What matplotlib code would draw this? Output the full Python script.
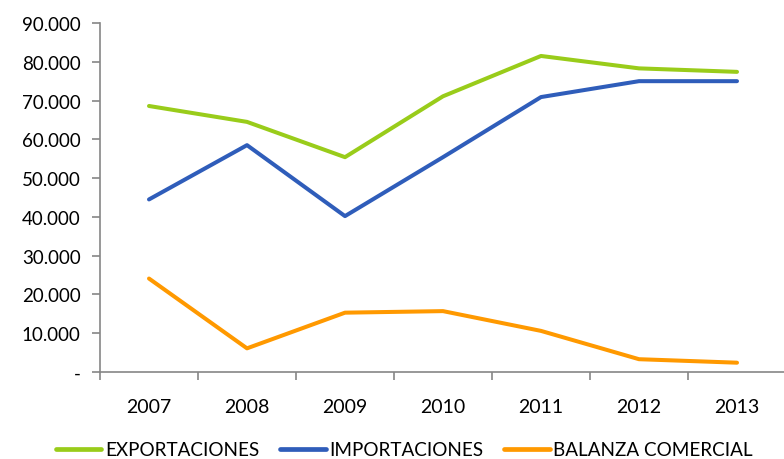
import matplotlib.pyplot as plt
from matplotlib.ticker import FuncFormatter, FixedLocator

years = ["2007", "2008", "2009", "2010", "2011", "2012", "2013"]
exportaciones = [68600, 64500, 55400, 71100, 81500, 78300, 77400]
importaciones = [44500, 58500, 40200, 55400, 70900, 75000, 75000]
balanza = [24100, 6100, 15300, 15700, 10600, 3300, 2400]

plt.rcParams["font.family"] = ["Lato", "DejaVu Sans"]

fig = plt.figure(figsize=(7.84, 4.6), dpi=100)
ax = fig.add_axes([100 / 784, 1 - 373 / 460, 686 / 784, 349 / 460])

x = range(len(years))
ax.plot(x, exportaciones, color="#99CC1A", lw=2.9, label="EXPORTACIONES", solid_capstyle="round")
ax.plot(x, importaciones, color="#2F5DBA", lw=2.9, label="IMPORTACIONES", solid_capstyle="round")
ax.plot(x, balanza, color="#FF9900", lw=2.9, label="BALANZA COMERCIAL", solid_capstyle="round")

ax.set_xlim(-0.5, 6.5)
ax.set_ylim(0, 90000)
ax.set_yticks(range(0, 90001, 10000))
ax.yaxis.set_major_formatter(FuncFormatter(
    lambda v, p: "-" if v == 0 else f"{int(v):,}".replace(",", ".")))

ax.set_xticks(list(x))
ax.set_xticklabels(years)
ax.tick_params(axis="x", which="major", length=0, pad=19, labelsize=14)
ax.xaxis.set_minor_locator(FixedLocator([i - 0.5 for i in range(8)]))
ax.tick_params(axis="x", which="minor", length=6, color="#868686", width=1.2)
ax.tick_params(axis="y", length=6, color="#868686", width=1.2, labelsize=13.5, pad=8)

for s in ["top", "right"]:
    ax.spines[s].set_visible(False)
for s in ["left", "bottom"]:
    ax.spines[s].set_color("#868686")
    ax.spines[s].set_linewidth(1.2)

leg = fig.legend(loc="center", bbox_to_anchor=(0.516, 1 - 451 / 460), ncol=3, frameon=False,
                 fontsize=13.6, handlelength=2.4, handletextpad=0.2, columnspacing=1.1,
                 borderpad=0.0)
for line in leg.get_lines():
    line.set_linewidth(3.4)

fig.savefig("out.png", dpi=100)
